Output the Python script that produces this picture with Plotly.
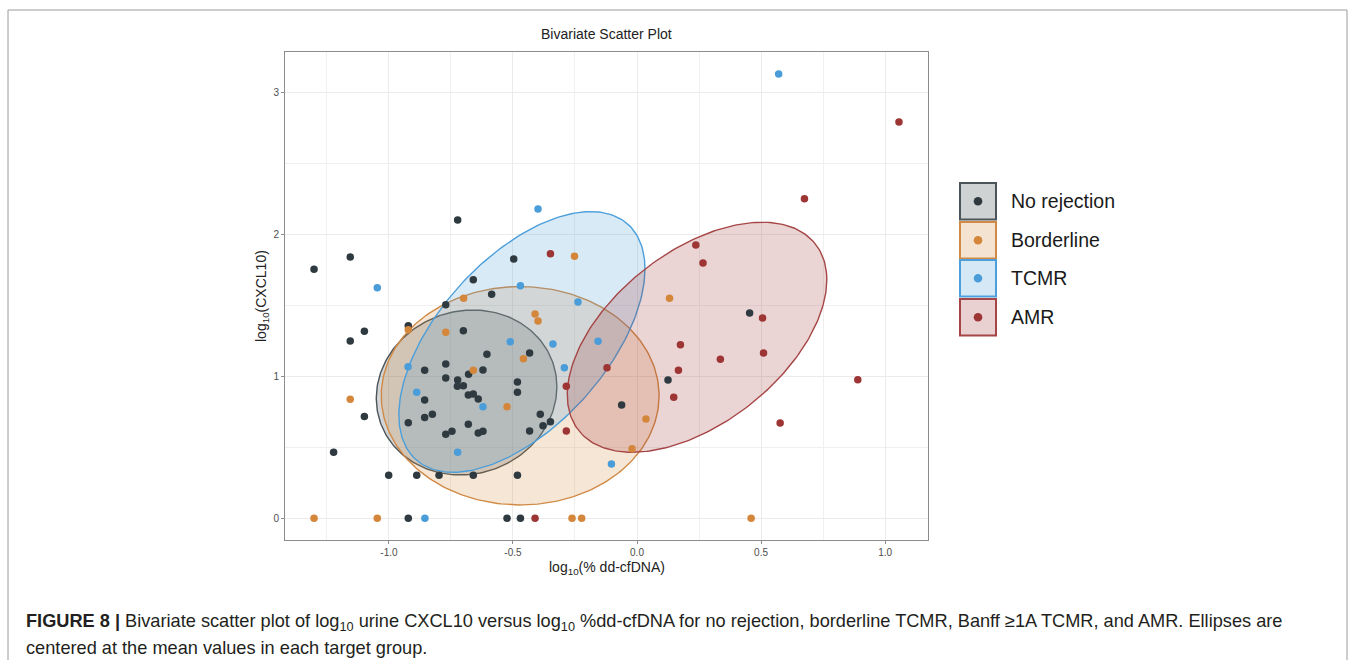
import numpy as np
import plotly.graph_objects as go

# ---------------- data ----------------
GROUPS = ["No rejection", "Borderline", "TCMR", "AMR"]

NOREJ_X = [-1.302, -1.156, -0.723, -0.497, -0.660, -0.586, -0.771, -0.922, -1.099, -1.156,
           -0.700, -0.433, -0.605, -0.771, -0.856, -0.679, -0.621, -0.771, -0.723, -0.724,
           -0.700, -0.482, -0.482, -0.856, -0.680, -0.660, -0.640, -1.099, -0.825, -0.856,
           -0.922, -0.680, -0.746, -0.771, -0.621, -0.640, -0.390, -0.379, -0.349, -0.433,
           -1.223, -1.001, -0.888, -0.798, -0.660, -0.482, -0.922, -0.524, -0.470, 0.454,
           0.125, -0.062]
NOREJ_Y = [1.754, 1.840, 2.101, 1.826, 1.680, 1.577, 1.504, 1.356, 1.317, 1.249,
           1.321, 1.164, 1.155, 1.087, 1.042, 1.014, 1.044, 0.988, 0.974, 0.930,
           0.934, 0.960, 0.887, 0.833, 0.868, 0.875, 0.840, 0.716, 0.732, 0.709,
           0.673, 0.662, 0.613, 0.591, 0.613, 0.601, 0.732, 0.652, 0.680, 0.615,
           0.465, 0.303, 0.303, 0.303, 0.303, 0.303, 0.0, 0.0, 0.0, 1.446,
           0.974, 0.798]

BORDER_X = [-0.252, -0.699, 0.131, -0.411, -0.399, -0.922, -0.771, -0.458, -0.660, -0.524,
            -1.156, 0.036, -0.020, -1.302, -1.047, -0.262, -0.223, 0.460]
BORDER_Y = [1.845, 1.549, 1.549, 1.439, 1.389, 1.328, 1.310, 1.124, 1.042, 0.786,
            0.838, 0.699, 0.490, 0.0, 0.0, 0.0, 0.0, 0.0]

TCMR_X = [0.571, -0.399, -1.047, -0.470, -0.238, -0.511, -0.339, -0.157, -0.923, -0.293,
          -0.888, -0.621, -0.723, -0.103, -0.855]
TCMR_Y = [3.129, 2.178, 1.624, 1.638, 1.523, 1.244, 1.227, 1.246, 1.068, 1.061,
          0.887, 0.786, 0.465, 0.382, 0.0]

AMR_X = [1.056, 0.675, -0.349, 0.237, 0.266, 0.506, 0.175, 0.510, 0.336, 0.167,
         -0.121, -0.285, 0.890, 0.148, 0.577, -0.285, -0.411]
AMR_Y = [2.791, 2.251, 1.863, 1.925, 1.798, 1.411, 1.223, 1.164, 1.120, 1.042,
         1.061, 0.930, 0.976, 0.852, 0.671, 0.615, 0.0]

# ellipse parameters per group (centre, half-extents, correlation)
ELL_CX = [-0.687, -0.471, -0.464, 0.242]
ELL_CY = [0.886, 0.863, 1.242, 1.275]
ELL_RX = [0.364, 0.560, 0.496, 0.523]
ELL_RY = [0.581, 0.769, 0.918, 0.810]
ELL_RHO = [0.07, 0.0, 0.56, 0.50]

X_TICKS = [-1.0, -0.5, 0.0, 0.5, 1.0]
X_TICK_TEXT = ["-1.0", "-0.5", "0.0", "0.5", "1.0"]
Y_TICKS = [0, 1, 2, 3]
Y_TICK_TEXT = ["0", "1", "2", "3"]

# ---------------- styling ----------------
PT_COLORS = ["#2F3A40", "#D4873B", "#4A9DD8", "#9E3535"]
LINE_COLORS = ["#4A5459", "#D08A45", "#4C9FDA", "#A64545"]
FILL_RGB = [(47, 58, 64), (212, 135, 59), (74, 157, 216), (158, 53, 53)]
FILL_ALPHA = 0.21
SANS = "Liberation Sans, Arial, sans-serif"

W, H = 1355, 660
L, R, T, B = 285, 928, 52, 540  # plot area in pixels


def px(xp):
    return (xp - L) / (R - L)


def py(yp):
    return (B - yp) / (B - T)


fig = go.Figure()

# ellipses
t = np.linspace(0, 2 * np.pi, 240)
for i in range(4):
    phi = np.arccos(ELL_RHO[i])
    ex = ELL_CX[i] + ELL_RX[i] * np.cos(t)
    ey = ELL_CY[i] + ELL_RY[i] * np.cos(t + phi)
    r_, g_, b_ = FILL_RGB[i]
    fig.add_trace(go.Scatter(
        x=ex, y=ey, mode="lines", fill="toself",
        fillcolor=f"rgba({r_},{g_},{b_},{FILL_ALPHA})",
        line=dict(color=LINE_COLORS[i], width=1.4),
        hoverinfo="skip", showlegend=False))

# points
series = [(NOREJ_X, NOREJ_Y), (BORDER_X, BORDER_Y), (TCMR_X, TCMR_Y), (AMR_X, AMR_Y)]
for i, (xs, ys) in enumerate(series):
    fig.add_trace(go.Scatter(
        x=xs, y=ys, mode="markers", name=GROUPS[i],
        marker=dict(color=PT_COLORS[i], size=7.5, line=dict(width=0)),
        showlegend=False))

shapes = []
annotations = []

# outer figure frame
shapes.append(dict(type="rect", xref="paper", yref="paper",
                   x0=px(8), x1=px(1347), y0=py(700), y1=py(10),
                   line=dict(color="#9a9a9a", width=1), fillcolor="rgba(0,0,0,0)", layer="below"))

# custom legend
box_top = [183, 222, 260, 299]
box_h = 36.5
for i in range(4):
    r_, g_, b_ = FILL_RGB[i]
    a = FILL_ALPHA + 0.02
    fr = int(round(255 * (1 - a) + r_ * a))
    fg = int(round(255 * (1 - a) + g_ * a))
    fb = int(round(255 * (1 - a) + b_ * a))
    y0 = box_top[i]
    shapes.append(dict(type="rect", xref="paper", yref="paper",
                       x0=px(960), x1=px(996), y0=py(y0 + box_h), y1=py(y0),
                       line=dict(color=LINE_COLORS[i], width=2),
                       fillcolor=f"rgb({fr},{fg},{fb})"))
    cy = y0 + box_h / 2
    shapes.append(dict(type="circle", xref="paper", yref="paper",
                       x0=px(978 - 4.3), x1=px(978 + 4.3), y0=py(cy + 4.3), y1=py(cy - 4.3),
                       line=dict(width=0), fillcolor=PT_COLORS[i]))
    annotations.append(dict(xref="paper", yref="paper", x=px(1009), y=py(cy),
                            xanchor="left", yanchor="middle", showarrow=False,
                            text=GROUPS[i],
                            font=dict(family=SANS, size=19.5, color="#1a1a1a")))

# caption
cap_font = dict(family=SANS, size=18.2, color="#231f20")
annotations.append(dict(xref="paper", yref="paper", x=px(24), y=py(622), xanchor="left", yanchor="middle",
                        showarrow=False, align="left", font=cap_font,
                        text="<b>FIGURE 8 |</b> Bivariate scatter plot of log<sub>10</sub> urine CXCL10 versus "
                             "log<sub>10</sub> %dd-cfDNA for no rejection, borderline TCMR, Banff \u22651A TCMR, "
                             "and AMR. Ellipses are"))
annotations.append(dict(xref="paper", yref="paper", x=px(24), y=py(648), xanchor="left", yanchor="middle",
                        showarrow=False, align="left", font=cap_font,
                        text="centered at the mean values in each target group."))

# axis titles
annotations.append(dict(xref="paper", yref="paper", x=0.5, y=py(568), xanchor="center", yanchor="middle",
                        showarrow=False, text="log<sub>10</sub>(% dd-cfDNA)",
                        font=dict(family=SANS, size=14, color="#222")))
annotations.append(dict(xref="paper", yref="paper", x=px(262), y=0.5, xanchor="center", yanchor="middle",
                        showarrow=False, textangle=-90, text="log<sub>10</sub>(CXCL10)",
                        font=dict(family=SANS, size=14, color="#222")))

# title
annotations.append(dict(xref="paper", yref="paper", x=0.5, y=py(34), xanchor="center", yanchor="middle",
                        showarrow=False, text="Bivariate Scatter Plot",
                        font=dict(family=SANS, size=14, color="#222")))

fig.update_layout(
    width=W, height=H,
    margin=dict(l=L, r=W - R, t=T, b=H - B, pad=0),
    paper_bgcolor="white", plot_bgcolor="white",
    shapes=shapes, annotations=annotations,
    showlegend=False,
    xaxis=dict(range=[-1.419, 1.173], tickvals=X_TICKS, ticktext=X_TICK_TEXT,
               showgrid=True, gridcolor="#EBEBEB", gridwidth=1,
               minor=dict(dtick=0.25, tick0=0, showgrid=True, gridcolor="#F0F0F0", gridwidth=0.8),
               zeroline=False, showline=True, linecolor="#8c8c8c", linewidth=1, mirror=True,
               ticks="outside", ticklen=3, tickcolor="#8c8c8c",
               tickfont=dict(family=SANS, size=10, color="#4d4d4d")),
    yaxis=dict(range=[-0.153, 3.284], tickvals=Y_TICKS, ticktext=Y_TICK_TEXT,
               showgrid=True, gridcolor="#EBEBEB", gridwidth=1,
               minor=dict(dtick=0.5, tick0=0, showgrid=True, gridcolor="#F0F0F0", gridwidth=0.8),
               zeroline=False, showline=True, linecolor="#8c8c8c", linewidth=1, mirror=True,
               ticks="outside", ticklen=3, tickcolor="#8c8c8c",
               tickfont=dict(family=SANS, size=10, color="#4d4d4d")),
)

fig.write_html("out.html", config={"displayModeBar": False},
               post_script="document.body.style.margin='0px';document.body.style.overflow='hidden';")
